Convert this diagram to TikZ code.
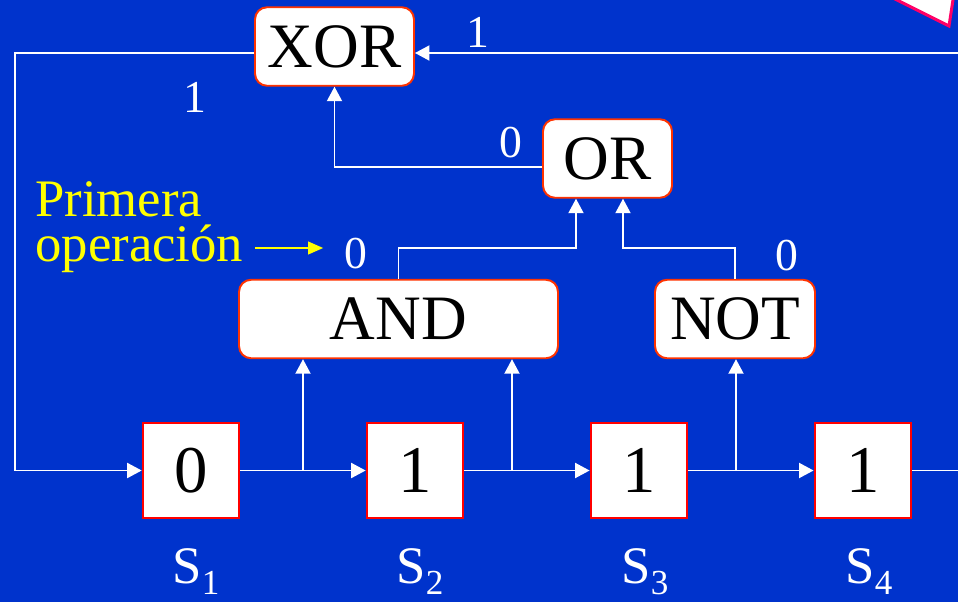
\documentclass[tikz,border=0pt]{standalone}
\usepackage{fontspec}
\setmainfont{Liberation Serif}
\usetikzlibrary{arrows.meta,positioning}
\definecolor{slide}{RGB}{0,51,204}
\definecolor{gateline}{RGB}{255,51,0}
\definecolor{cellline}{RGB}{255,0,0}
\definecolor{notepink}{RGB}{255,0,102}
\definecolor{hintyellow}{RGB}{255,255,0}

\begin{document}
\begin{tikzpicture}[x=0.02cm, y=-0.02cm, node distance=4.48cm, >={Triangle[length=0.29cm,width=0.3cm]},
  gate/.style={rectangle,draw=gateline,fill=white,line width=1.1pt,rounded corners=0.24cm,minimum height=1.57cm,inner sep=0pt,font=\fontsize{36}{36}\selectfont},
  cell/.style={rectangle,draw=cellline,fill=white,line width=1.5pt,minimum width=1.92cm,minimum height=1.9cm,inner sep=0pt,font=\fontsize{38}{38}\selectfont},
  bit/.style={text=white,inner sep=0pt,font=\fontsize{26}{26}\selectfont},
  tag/.style={text=white,inner sep=0pt,anchor=base,font=\fontsize{30}{30}\selectfont},
  wire/.style={white,line width=1.1pt},
  hint/.style={hintyellow,line width=1.2pt,>={Triangle[length=0.3cm,width=0.25cm]}}]
  \useasboundingbox (0,0) rectangle (958,602);
  \fill[slide] (0,0) rectangle (958,602);
  \clip (0,0) rectangle (958,602);
  \draw[notepink,fill=white,line width=1.7pt] (877,-10) -- (949,26) -- (954.5,-10);

  \node[gate,minimum width=3.18cm] (xor) at (334.5,46.5) {XOR};
  \node[gate,minimum width=2.58cm] (or) at (607.5,158.5) {OR};
  \node[gate,minimum width=6.38cm] (and) at (398.5,319) {AND};
  \node[gate,minimum width=3.2cm] (not) at (735,319) {NOT};

  \node[cell] (s1) at (191,470.5) {0};
  \node[cell,right of=s1] (s2) {1};
  \node[cell,right of=s2] (s3) {1};
  \node[cell,right of=s3] (s4) {1};

  \node[tag] (n1) at (196,583) {S\raisebox{-6.5pt}{\fontsize{20}{20}\selectfont 1}};
  \node[tag] (n2) at (420,583) {S\raisebox{-6.5pt}{\fontsize{20}{20}\selectfont 2}};
  \node[tag] (n3) at (645,583) {S\raisebox{-6.5pt}{\fontsize{20}{20}\selectfont 3}};
  \node[tag] (n4) at (869,583) {S\raisebox{-6.5pt}{\fontsize{20}{20}\selectfont 4}};

  \node[bit] (b0) at (478,32) {1};
  \node[bit] (b1) at (195,97) {1};
  \node[bit] (b2) at (511,143) {0};
  \node[bit] (b3) at (356,254) {0};
  \node[bit] (b4) at (786.5,256) {0};

  \node[text=hintyellow,align=left,anchor=west,inner sep=0pt,font=\fontsize{30}{26}\selectfont] (note) at (35,227) {Primera\\operación};

  \coordinate (fbin) at (958,53);
  \coordinate (fbout) at (958,470.5);
  \coordinate (fbleft) at (15,470.5);
  \coordinate (j1) at (576,248);
  \coordinate (j2) at (623,248);
  \coordinate (tap1) at (303,470.5);
  \coordinate (tap2) at (512,470.5);
  \coordinate (tap3) at (736,470.5);
  \coordinate (hintfrom) at (255,248);

  \draw[wire,->] (fbin) -- (fbin -| xor.east);
  \draw[wire,->] (xor.west |- fbin) -| (fbleft) -- (s1);
  \draw[wire,->] ([yshift=-0.17cm]or.west) -| (xor);
  \draw[wire,->] (and) |- (j1) -- (j1 |- or.south);
  \draw[wire,->] (not) |- (j2) -- (j2 |- or.south);
  \draw[wire,->] (s1) -- (s2);
  \draw[wire,->] (s2) -- (s3);
  \draw[wire,->] (s3) -- (s4);
  \draw[wire] (s4) -- (fbout);
  \draw[wire,->] (tap1) -- (tap1 |- and.south);
  \draw[wire,->] (tap2) -- (tap2 |- and.south);
  \draw[wire,->] (tap3) -- (tap3 |- not.south);
  \draw[hint,->,shorten >=0.42cm] (hintfrom) -- (hintfrom -| b3.west);
\end{tikzpicture}
\end{document}
